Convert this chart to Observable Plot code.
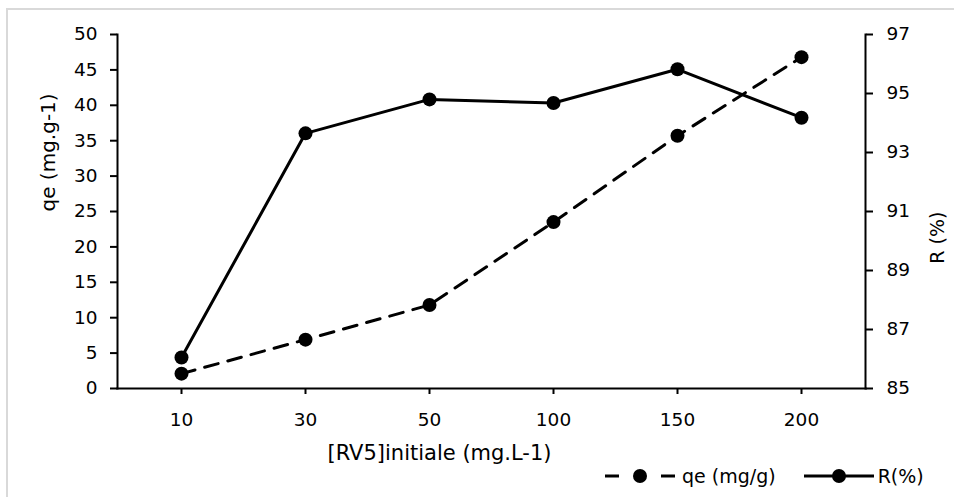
<!DOCTYPE html>
<html>
<head>
<meta charset="utf-8">
<script src="https://cdn.jsdelivr.net/npm/d3@7"></script>
<script src="https://cdn.jsdelivr.net/npm/@observablehq/plot@0.6"></script>
<style>
  body { margin: 0; background: #fff; font-family: "DejaVu Sans", sans-serif; }
  #wrap { position: relative; width: 954px; height: 497px; overflow: hidden; }
  #border { position: absolute; left: 6px; top: 8px; width: 960px; height: 500px; border: 2px solid #d9d9d9; box-sizing: border-box; }
  #legend { position: absolute; top: 464px; left: 604px; display: flex; align-items: center; font-size: 19px; color: #000; line-height: 24px; }
  #legend .item { display: flex; align-items: center; }
  #legend svg { display: block; }
</style>
</head>
<body>
<div id="wrap">
  <div id="border"></div>
  <div id="chart"></div>
  <div id="legend"></div>
</div>
<script>
const categories = ["10", "30", "50", "100", "150", "200"];
const qeValues = [2.1, 6.9, 11.8, 23.5, 35.7, 46.8];
const rValues = [86.05, 93.65, 94.8, 94.68, 95.82, 94.18];
const qeTicks = [0, 5, 10, 15, 20, 25, 30, 35, 40, 45, 50];
const rTicks = [85, 87, 89, 91, 93, 95, 97];
const rMin = 85, rMax = 97, qeMax = 50;

const toY = r => (r - rMin) * qeMax / (rMax - rMin);
const fromY = y => rMin + y * (rMax - rMin) / qeMax;

const data = categories.map((c, i) => ({ c, qe: qeValues[i], r: rValues[i], ry: toY(rValues[i]) }));

const font = "'DejaVu Sans', sans-serif";
const fs = 18.5;

const chart = Plot.plot({
  width: 954,
  height: 497,
  marginLeft: 117,
  marginRight: 89,
  marginTop: 34,
  marginBottom: 109,
  style: { fontFamily: font, fontSize: fs + "px", color: "#000", background: "transparent", overflow: "visible" },
  x: { type: "point", domain: categories, padding: 0.5 },
  y: { domain: [0, qeMax] },
  marks: [
    Plot.frame({ anchor: "left", stroke: "#000", strokeWidth: 2 }),
    Plot.frame({ anchor: "right", stroke: "#000", strokeWidth: 2 }),
    Plot.frame({ anchor: "bottom", stroke: "#000", strokeWidth: 2 }),
    Plot.axisX({ tickSize: 6, tickPadding: 18, strokeWidth: 2, label: null, fontSize: fs }),
    Plot.axisY({ ticks: qeTicks, tickSize: 7, tickPadding: 13, strokeWidth: 2, label: null, fontSize: fs }),
    Plot.axisY({ anchor: "right", ticks: rTicks.map(toY), tickFormat: d => String(Math.round(fromY(d))), tickSize: 7, tickPadding: 14, strokeWidth: 2, label: null, fontSize: fs }),
    Plot.text(["qe (mg.g-1)"], { frameAnchor: "left", dx: -69, rotate: -90, fontSize: 20, fill: "#000" }),
    Plot.text(["R (%)"], { frameAnchor: "right", dx: 72, rotate: -90, fontSize: 19, fill: "#000" }),
    Plot.text(["[RV5]initiale (mg.L-1)"], { frameAnchor: "bottom", dx: -52, dy: 71, fontSize: 21, fill: "#000" }),
    Plot.line(data, { x: "c", y: "qe", stroke: "#000", strokeWidth: 3, strokeDasharray: "14,10" }),
    Plot.dot(data, { x: "c", y: "qe", r: 7, fill: "#000", stroke: "none" }),
    Plot.line(data, { x: "c", y: "ry", stroke: "#000", strokeWidth: 3 }),
    Plot.dot(data, { x: "c", y: "ry", r: 7, fill: "#000", stroke: "none" })
  ]
});
document.getElementById("chart").appendChild(chart);

// legend
const legendItems = [
  { label: "qe (mg/g)", dash: "14,42,14" },
  { label: "R(%)", dash: null }
];
const legend = d3.select("#legend");
legendItems.forEach((it, i) => {
  const item = legend.append("div").attr("class", "item").style("margin-right", i === 0 ? "27px" : "0");
  const s = item.append("svg").attr("width", 72).attr("height", 24);
  const ln = s.append("line").attr("x1", 1).attr("x2", 71).attr("y1", 12).attr("y2", 12)
    .attr("stroke", "#000").attr("stroke-width", 3);
  if (it.dash) ln.attr("stroke-dasharray", it.dash);
  s.append("circle").attr("cx", 36).attr("cy", 12).attr("r", 7).attr("fill", "#000");
  item.append("span").text(it.label).style("margin-left", i === 0 ? "6px" : "3px");
});
</script>
</body>
</html>
